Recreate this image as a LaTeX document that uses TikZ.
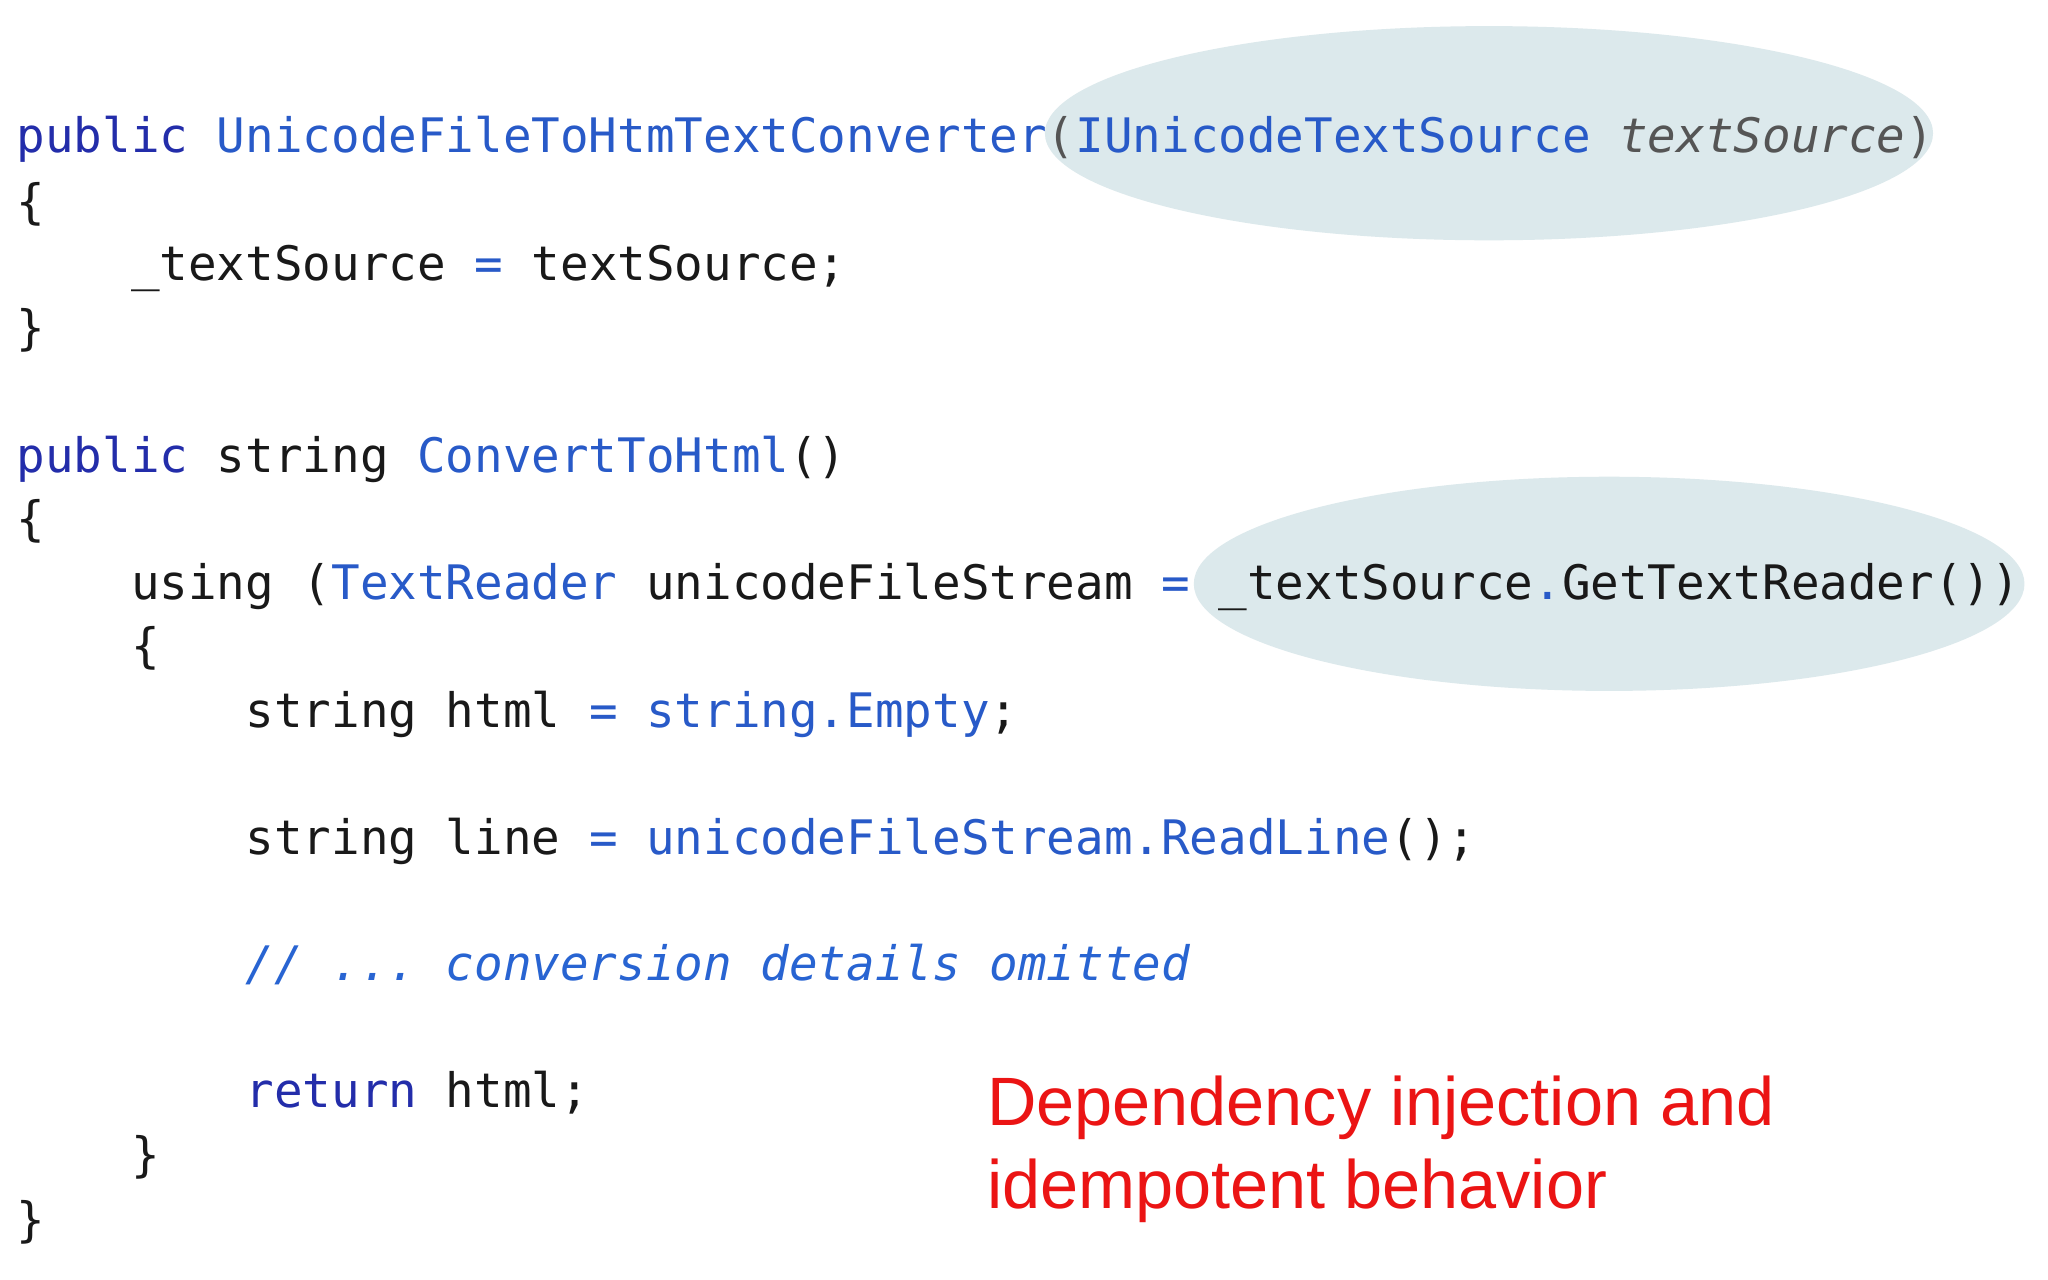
\documentclass[tikz,border=0pt]{standalone}
\usepackage{fontspec}
\setmonofont{DejaVu Sans Mono}
\setsansfont{Liberation Sans}
\definecolor{kw}{RGB}{35,45,170}
\definecolor{ty}{RGB}{40,90,200}
\definecolor{cm}{RGB}{40,100,210}
\definecolor{tx}{RGB}{25,25,25}
\definecolor{gr}{RGB}{85,85,85}
\definecolor{ell}{RGB}{220,233,236}
\definecolor{dired}{RGB}{235,20,20}
\tikzset{code/.style={anchor=base west,inner sep=0pt,font=\ttfamily\fontsize{10.35pt}{12pt}\selectfont,text=tx},
 note/.style={anchor=base west,inner sep=0pt,font=\sffamily\fontsize{14.9pt}{18pt}\selectfont,text=dired}}
\begin{document}
\begin{tikzpicture}[x=0.01cm,y=-0.01cm]
\useasboundingbox[fill=white] (0,0) rectangle (1568,980);
\fill[ell] (1140,102) ellipse [x radius=340, y radius=82];
\fill[ell] (1232,447) ellipse [x radius=318, y radius=82];
\node[code] (l1) at (12,117) {\color{kw}public \color{ty}UnicodeFileToHtmTextConverter\color{gr}(\color{ty}IUnicodeTextSource \color{gr}\itshape textSource\upshape)};
\node[code] (l2) at (12,167) {\{};
\node[code] (l3) at (12,215) {\ \ \ \ \_textSource \color{ty}=\color{tx}\ textSource;};
\node[code] (l4) at (12,264) {\}};
\node[code] (l5) at (12,362) {\color{kw}public \color{tx}string \color{ty}ConvertToHtml\color{tx}()};
\node[code] (l6) at (12,410) {\{};
\node[code] (l7) at (12,459) {\ \ \ \ using (\color{ty}TextReader \color{tx}unicodeFileStream \color{ty}= \color{tx}\_textSource\color{ty}.\color{tx}GetTextReader())};
\node[code] (l8) at (12,507) {\ \ \ \ \{};
\node[code] (l9) at (12,557) {\ \ \ \ \ \ \ \ string html \color{ty}= string.Empty\color{tx};};
\node[code] (l10) at (12,654) {\ \ \ \ \ \ \ \ string line \color{ty}= unicodeFileStream.ReadLine\color{tx}();};
\node[code] (l11) at (12,751) {\ \ \ \ \ \ \ \ \color{cm}\itshape // ... conversion details omitted};
\node[code] (l12) at (12,848) {\ \ \ \ \ \ \ \ \color{kw}return \color{tx}html;};
\node[code] (l13) at (12,897) {\ \ \ \ \}};
\node[code] (l14) at (12,947) {\}};
\node[note] (n1) at (755,862) {Dependency injection and};
\node[note] (n2) at (755,925) {idempotent behavior};
\end{tikzpicture}
\end{document}
